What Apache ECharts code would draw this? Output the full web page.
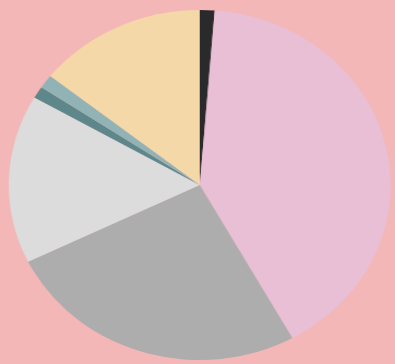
<!DOCTYPE html>
<html>
<head>
<meta charset="utf-8">
<script src="https://cdn.jsdelivr.net/npm/echarts@6/dist/echarts.min.js"></script>
<style>
  html, body { margin: 0; padding: 0; background: #f4b7b7; overflow: hidden; }
  #chart {
    width: 362px; height: 364px;
    transform: scaleX(1.0914); transform-origin: 0 0;
  }
</style>
</head>
<body>
<div id="chart"></div>
<script>
// Slice names, shares and colours, clockwise from 12 o'clock
const sliceNames = ['Segment A', 'Segment B', 'Segment C', 'Segment D', 'Segment E', 'Segment F', 'Segment G'];
const sliceValues = [4.5, 146.5, 93, 56, 4, 4.5, 51.5];
const sliceColors = ['#2a2a2c', '#e8bfd5', '#adadad', '#dcdcdc', '#5d878b', '#92b3b6', '#f5d8a8'];

const chart = echarts.init(document.getElementById('chart'), null, { renderer: 'canvas' });

const data = sliceNames.map((name, i) => ({
  name: name,
  value: sliceValues[i],
  itemStyle: { color: sliceColors[i] }
}));

chart.setOption({
  backgroundColor: '#f4b7b7',
  animation: false,
  series: [{
    type: 'pie',
    center: [183, 185],
    radius: [0, 175],
    startAngle: 90,
    clockwise: true,
    label: { show: false },
    labelLine: { show: false },
    itemStyle: { borderWidth: 0 },
    emphasis: { disabled: true },
    data: data
  }]
});
</script>
</body>
</html>
